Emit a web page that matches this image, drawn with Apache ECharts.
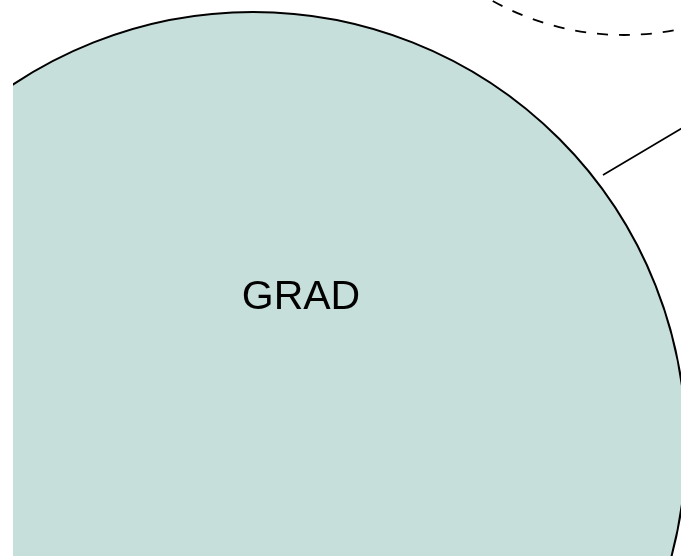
<!DOCTYPE html>
<html>
<head>
<meta charset="utf-8">
<script src="https://cdn.jsdelivr.net/npm/echarts@6/dist/echarts.min.js"></script>
<style>html,body{margin:0;padding:0;background:#fff}#c{width:681px;height:556px}</style>
</head>
<body>
<div id="c"></div>
<script>
// Diagram nodes (data units: 1 unit = 1 px in the visible crop)
var nodeNames = ['GRAD', ''];
var nodeX = [240, 611];
var nodeY = [445, -235];
var nodeR = [433, 270];
var nodeDashed = [false, true];
var labelX = [288, null];
var labelY = [298, null];
// Edge leaving GRAD toward upper right
var edgeX = [590, 720];
var edgeY = [175, 98];

var chart = echarts.init(document.getElementById('c'), null, {renderer: 'canvas'});

var nodeData = nodeNames.map(function (n, i) {
  return [nodeX[i], nodeY[i], nodeR[i], nodeDashed[i] ? 1 : 0, labelX[i], labelY[i], n];
});

chart.setOption({
  animation: false,
  backgroundColor: '#ffffff',
  grid: {left: 13, right: 0, top: 0, bottom: 0},
  xAxis: {type: 'value', min: 0, max: 668, show: false},
  yAxis: {type: 'value', min: 0, max: 556, inverse: true, show: false},
  series: [
    {
      type: 'custom',
      clip: true,
      data: nodeData,
      renderItem: function (params, api) {
        var c = api.coord([api.value(0), api.value(1)]);
        var r = api.size([api.value(2), 0])[0];
        var dashed = api.value(3) === 1;
        var children = [{
          type: 'circle',
          shape: {cx: c[0], cy: c[1], r: r},
          style: dashed ? {fill: 'none', stroke: '#000', lineWidth: 1.8, lineDash: [11, 11]}
                        : {fill: '#c7dfdb', stroke: '#000', lineWidth: 2}
        }];
        var name = nodeNames[params.dataIndex];
        if (name) {
          var lp = api.coord([labelX[params.dataIndex], labelY[params.dataIndex]]);
          children.push({
            type: 'text',
            style: {x: lp[0], y: lp[1], text: name, fill: '#000',
              font: '41px "Liberation Sans", Arial, sans-serif',
              align: 'center', verticalAlign: 'middle'}
          });
        }
        return {type: 'group', children: children};
      }
    },
    {
      type: 'line',
      data: edgeX.map(function (x, i) { return [x, edgeY[i]]; }),
      symbol: 'none',
      clip: true,
      lineStyle: {color: '#000', width: 1.6}
    }
  ]
});
</script>
</body>
</html>
